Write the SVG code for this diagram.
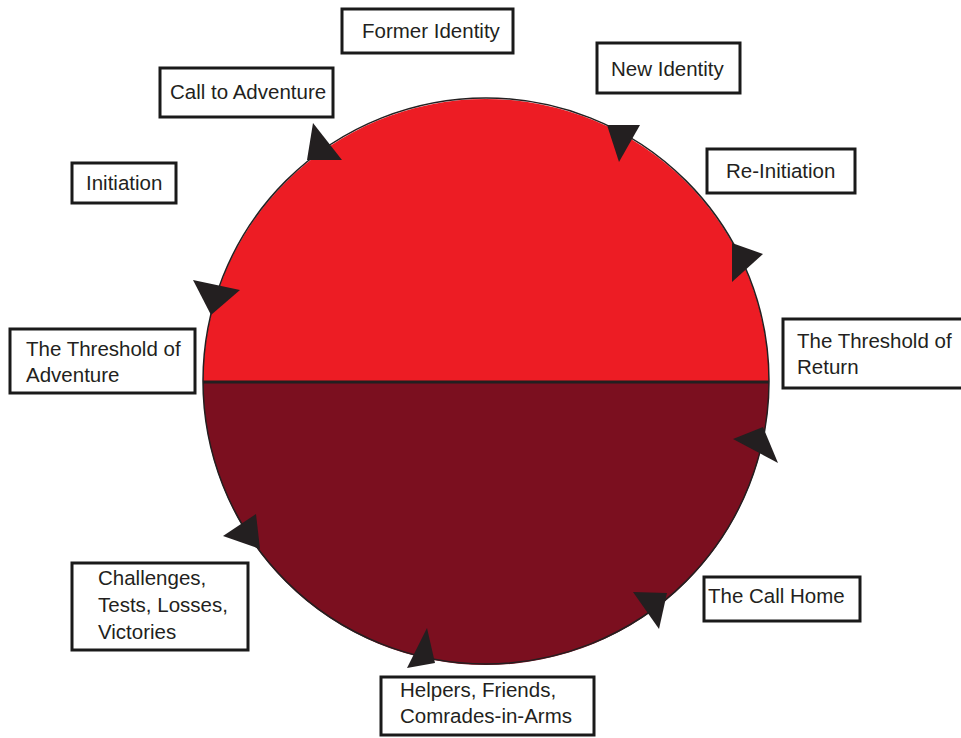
<svg xmlns="http://www.w3.org/2000/svg" width="961" height="738" viewBox="0 0 961 738">
<style>
.box{fill:#fff;stroke:#1a1a1a;stroke-width:3}
.t{font-family:"Liberation Sans",Arial,sans-serif;font-size:20.5px;fill:#231f20}
.arr{fill:#231f20}
</style>
<rect width="961" height="738" fill="#fff"/>
<g id="wheel">
<path d="M203,382 A283,283 0 0 1 769,382 Z" fill="#ED1C24"/>
<path d="M203,382 A283,283 0 0 0 769,382 Z" fill="#7B0F1F"/>
<circle cx="486" cy="381" r="283" fill="none" stroke="#231f20" stroke-width="1.5"/>
<line x1="203" y1="382" x2="769" y2="382" stroke="#231f20" stroke-width="3"/>
</g>
<g id="connectors">
<polygon class="arr" points="313,123 307,160 342,160"/>
<polygon class="arr" points="607,125 640,125 619,162"/>
<polygon class="arr" points="732,243 763,254 732,282"/>
<polygon class="arr" points="193,280 240,290 211,315"/>
<polygon class="arr" points="733,439 763,427 778,463"/>
<polygon class="arr" points="223,536 256,514 260,549"/>
<polygon class="arr" points="633,592 667,593 659,629"/>
<polygon class="arr" points="427,628 407,668 435,663"/>
</g>
<g id="former-identity"><rect class="box" x="342" y="9" width="171" height="44"/><text class="t" x="362" y="38">Former Identity</text></g>
<g id="new-identity"><rect class="box" x="597" y="43" width="143" height="50"/><text class="t" x="611" y="76">New Identity</text></g>
<g id="call-to-adventure"><rect class="box" x="160" y="68" width="173" height="49"/><text class="t" x="170" y="99">Call to Adventure</text></g>
<g id="initiation"><rect class="box" x="72" y="163" width="104" height="40"/><text class="t" x="86" y="190">Initiation</text></g>
<g id="re-initiation"><rect class="box" x="707" y="149" width="148" height="44"/><text class="t" x="726" y="178">Re-Initiation</text></g>
<g id="threshold-adventure"><rect class="box" x="10" y="329" width="185" height="64"/><text class="t" x="26" y="356">The Threshold of</text><text class="t" x="26" y="382">Adventure</text></g>
<g id="threshold-return"><rect class="box" x="783" y="319" width="185" height="69"/><text class="t" x="797" y="348">The Threshold of</text><text class="t" x="797" y="374">Return</text></g>
<g id="challenges"><rect class="box" x="72" y="563" width="176" height="87"/><text class="t" x="98" y="585">Challenges,</text><text class="t" x="98" y="612">Tests, Losses,</text><text class="t" x="98" y="639">Victories</text></g>
<g id="call-home"><rect class="box" x="704" y="577" width="156" height="44"/><text class="t" x="708" y="603">The Call Home</text></g>
<g id="helpers"><rect class="box" x="381" y="677" width="213" height="58"/><text class="t" x="400" y="697">Helpers, Friends,</text><text class="t" x="400" y="723">Comrades-in-Arms</text></g>
</svg>
